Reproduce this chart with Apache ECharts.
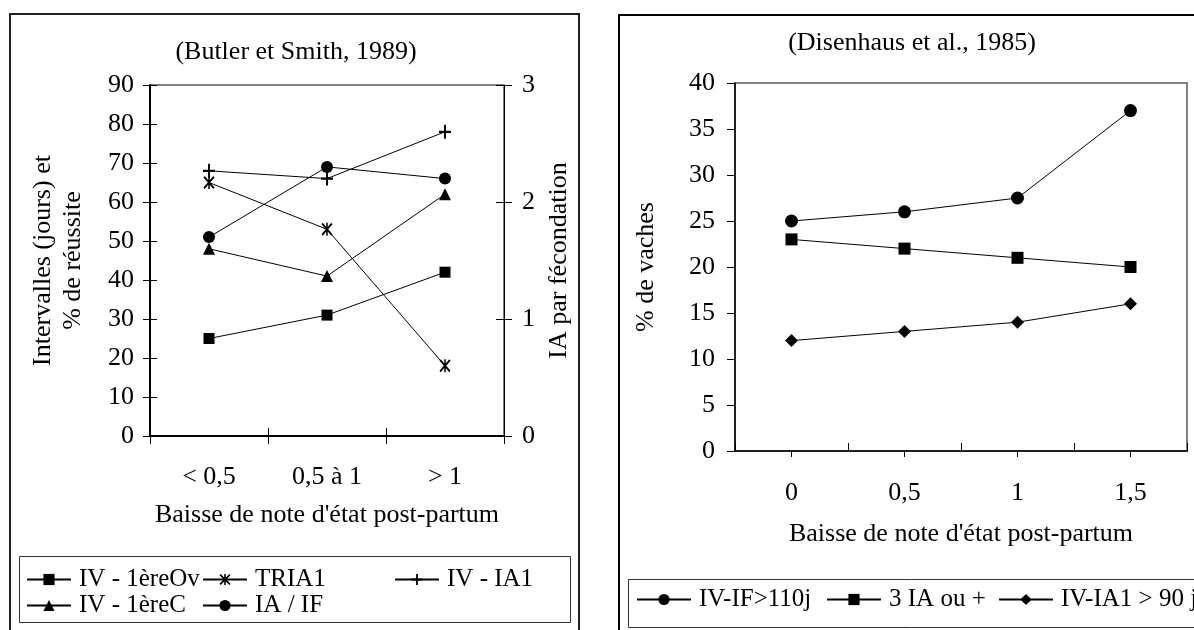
<!DOCTYPE html>
<html><head><meta charset="utf-8">
<script src="https://cdn.jsdelivr.net/npm/echarts@6/dist/echarts.min.js"></script>
<style>html,body{margin:0;padding:0;background:#fff}#c{width:1194px;height:630px}</style>
</head><body><div id="c"></div>
<script>
// ---- data ----
const leftCategories = ['< 0,5', '0,5 à 1', '> 1'];
const ivOv   = [25, 31, 42];     // IV - 1èreOv (jours)
const tria1  = [65, 53, 18];     // TRIA1 (%)
const ivIa1  = [68, 66, 78];     // IV - IA1 (jours)
const ivC    = [48, 41, 62];     // IV - 1èreC (jours)
const iaIf   = [1.7, 2.3, 2.2];  // IA / IF (right axis)
const leftNames = ['IV - 1èreOv', 'TRIA1', 'IV - IA1', 'IV - 1èreC', 'IA / IF'];

const rightCategories = ['0', '0,5', '1', '1,5'];
const ivIf110 = [25, 26, 27.5, 37];
const ia3     = [23, 22, 21, 20];
const ivIa190 = [12, 13, 14, 16];
const rightNames = ['IV-IF>110j', '3 IA ou +', 'IV-IA1 > 90 j'];

// ---- style ----
const FONT = "'Liberation Serif', 'Times New Roman', serif";
const BLACK = '#000';
const txt = (size) => ({ fontFamily: FONT, fontSize: size, color: BLACK });

const PLUS = 'path://M4.2,0 H5.8 V4.2 H10 V5.8 H5.8 V10 H4.2 V5.8 H0 V4.2 H4.2 Z';
const STAR = 'path://M0,1.1 L1.1,0 L10,8.9 L8.9,10 Z M8.9,0 L10,1.1 L1.1,10 L0,8.9 Z M4.3,0 H5.7 V10 H4.3 Z';

const chart = echarts.init(document.getElementById('c'), null, { renderer: 'canvas' });

function line(name, data, xi, yi, symbol, size) {
  return {
    type: 'line', name, data, xAxisIndex: xi, yAxisIndex: yi,
    symbol, symbolSize: size, showSymbol: true,
    lineStyle: { color: BLACK, width: 1 },
    itemStyle: { color: BLACK, borderWidth: 0 },
    emphasis: { disabled: true }, z: 5
  };
}
function legend(name, left, centerY, w) {
  return {
    data: [name], left, top: centerY - 14, orient: 'horizontal',
    itemWidth: w, itemHeight: 14, itemGap: 0, padding: 0,
    textStyle: Object.assign(txt(25), { padding: [0, 0, 0, 3] }),
    selectedMode: false
  };
}

const option = {
  animation: false,
  backgroundColor: '#fff',
  title: [
    { text: '(Butler et Smith, 1989)', left: 296, top: 39, textAlign: 'center', textStyle: Object.assign(txt(26), { fontWeight: 'normal' }), padding: 0 },
    { text: '(Disenhaus et al., 1985)', left: 912, top: 30, textAlign: 'center', textStyle: Object.assign(txt(26), { fontWeight: 'normal' }), padding: 0 }
  ],
  grid: [
    { left: 150, top: 85, width: 354, height: 351, show: true, borderColor: BLACK, borderWidth: 1, backgroundColor: 'transparent' },
    { left: 735, top: 83, width: 452, height: 368, show: true, borderColor: '#808080', borderWidth: 2, backgroundColor: 'transparent' }
  ],
  xAxis: [
    { gridIndex: 0, type: 'category', data: leftCategories, position: 'bottom', boundaryGap: true,
      axisLine: { show: true, onZero: false, lineStyle: { color: BLACK, width: 2 } },
      axisTick: { show: true, inside: false, length: 8, lineStyle: { color: BLACK, width: 1 } },
      axisLabel: Object.assign(txt(26), { margin: 28 }),
      splitLine: { show: false },
      name: "Baisse de note d'état post-partum", nameLocation: 'middle', nameGap: 66, nameTextStyle: txt(26) },
    { gridIndex: 0, type: 'category', data: leftCategories, position: 'bottom', boundaryGap: true,
      axisLine: { show: false, onZero: false },
      axisTick: { show: true, inside: true, length: 8, lineStyle: { color: BLACK, width: 1 } },
      axisLabel: { show: false }, splitLine: { show: false } },
    { gridIndex: 1, type: 'category', data: rightCategories, position: 'bottom', boundaryGap: true,
      axisLine: { show: true, onZero: false, lineStyle: { color: BLACK, width: 1.5 } },
      axisTick: { show: true, inside: true, length: 8, lineStyle: { color: BLACK, width: 1 } },
      axisLabel: Object.assign(txt(26), { margin: 29 }),
      splitLine: { show: false },
      name: "Baisse de note d'état post-partum", nameLocation: 'middle', nameGap: 70, nameTextStyle: txt(26) },
    { gridIndex: 1, type: 'category', data: rightCategories, position: 'bottom', boundaryGap: true,
      axisLine: { show: false, onZero: false },
      axisTick: { show: true, inside: false, alignWithLabel: true, length: 6, lineStyle: { color: BLACK, width: 1 } },
      axisLabel: { show: false }, splitLine: { show: false } }
  ],
  yAxis: [
    { gridIndex: 0, type: 'value', position: 'left', min: 0, max: 90, interval: 10,
      axisLine: { show: true, onZero: false, lineStyle: { color: BLACK, width: 2 } },
      axisTick: { show: true, inside: false, length: 7, lineStyle: { color: BLACK, width: 1 } },
      axisLabel: Object.assign(txt(26), { margin: 16 }),
      splitLine: { show: false },
      name: 'Intervalles (jours) et\n% de réussite', nameLocation: 'middle', nameRotate: 90, nameGap: 62,
      nameTextStyle: Object.assign(txt(26), { lineHeight: 30 }) },
    { gridIndex: 0, type: 'value', position: 'left', min: 0, max: 90, interval: 10,
      axisLine: { show: false, onZero: false },
      axisTick: { show: true, inside: true, length: 7, lineStyle: { color: BLACK, width: 1 } },
      axisLabel: { show: false }, splitLine: { show: false } },
    { gridIndex: 0, type: 'value', position: 'right', min: 0, max: 3, interval: 1,
      axisLine: { show: true, onZero: false, lineStyle: { color: BLACK, width: 1 } },
      axisTick: { show: true, inside: false, length: 8, lineStyle: { color: BLACK, width: 1 } },
      axisLabel: Object.assign(txt(26), { margin: 18 }),
      splitLine: { show: false },
      name: 'IA par fécondation', nameLocation: 'middle', nameRotate: 90, nameGap: 42, nameTextStyle: txt(26) },
    { gridIndex: 0, type: 'value', position: 'right', min: 0, max: 3, interval: 1,
      axisLine: { show: false, onZero: false },
      axisTick: { show: true, inside: true, length: 8, lineStyle: { color: BLACK, width: 1 } },
      axisLabel: { show: false }, splitLine: { show: false } },
    { gridIndex: 1, type: 'value', position: 'left', min: 0, max: 40, interval: 5,
      axisLine: { show: true, onZero: false, lineStyle: { color: BLACK, width: 1.5 } },
      axisTick: { show: true, inside: false, length: 8, lineStyle: { color: BLACK, width: 1 } },
      axisLabel: Object.assign(txt(26), { margin: 20 }),
      splitLine: { show: false },
      name: '% de vaches', nameLocation: 'middle', nameRotate: 90, nameGap: 76, nameTextStyle: txt(26) }
  ],
  legend: [
    legend(leftNames[0], 26, 581, 44),
    legend(leftNames[1], 202, 581, 44),
    legend(leftNames[2], 394, 581, 44),
    legend(leftNames[3], 26, 607, 44),
    legend(leftNames[4], 202, 607, 44),
    legend(rightNames[0], 636, 601, 54),
    legend(rightNames[1], 826, 601, 54),
    legend(rightNames[2], 998, 601, 54)
  ],
  graphic: [
    { type: 'rect', z: 0, silent: true, shape: { x: 10, y: 14, width: 569, height: 640 }, style: { fill: 'none', stroke: '#222', lineWidth: 2 } },
    { type: 'rect', z: 0, silent: true, shape: { x: 19.5, y: 556.5, width: 551, height: 66 }, style: { fill: 'none', stroke: '#333', lineWidth: 1 } },
    { type: 'rect', z: 0, silent: true, shape: { x: 619, y: 15, width: 700, height: 640 }, style: { fill: 'none', stroke: '#000', lineWidth: 2 } },
    { type: 'rect', z: 0, silent: true, shape: { x: 628.5, y: 579.5, width: 700, height: 48 }, style: { fill: 'none', stroke: '#333', lineWidth: 1 } }
  ],
  series: [
    line(leftNames[0], ivOv, 0, 0, 'rect', 11),
    line(leftNames[1], tria1, 0, 0, STAR, [11, 13]),
    line(leftNames[2], ivIa1, 0, 0, PLUS, [12, 14]),
    line(leftNames[3], ivC, 0, 0, 'triangle', 12),
    line(leftNames[4], iaIf, 0, 2, 'circle', 12),
    line(rightNames[0], ivIf110, 2, 4, 'circle', 13),
    line(rightNames[1], ia3, 2, 4, 'rect', 12),
    line(rightNames[2], ivIa190, 2, 4, 'diamond', 13)
  ]
};
chart.setOption(option);
</script>
</body></html>
